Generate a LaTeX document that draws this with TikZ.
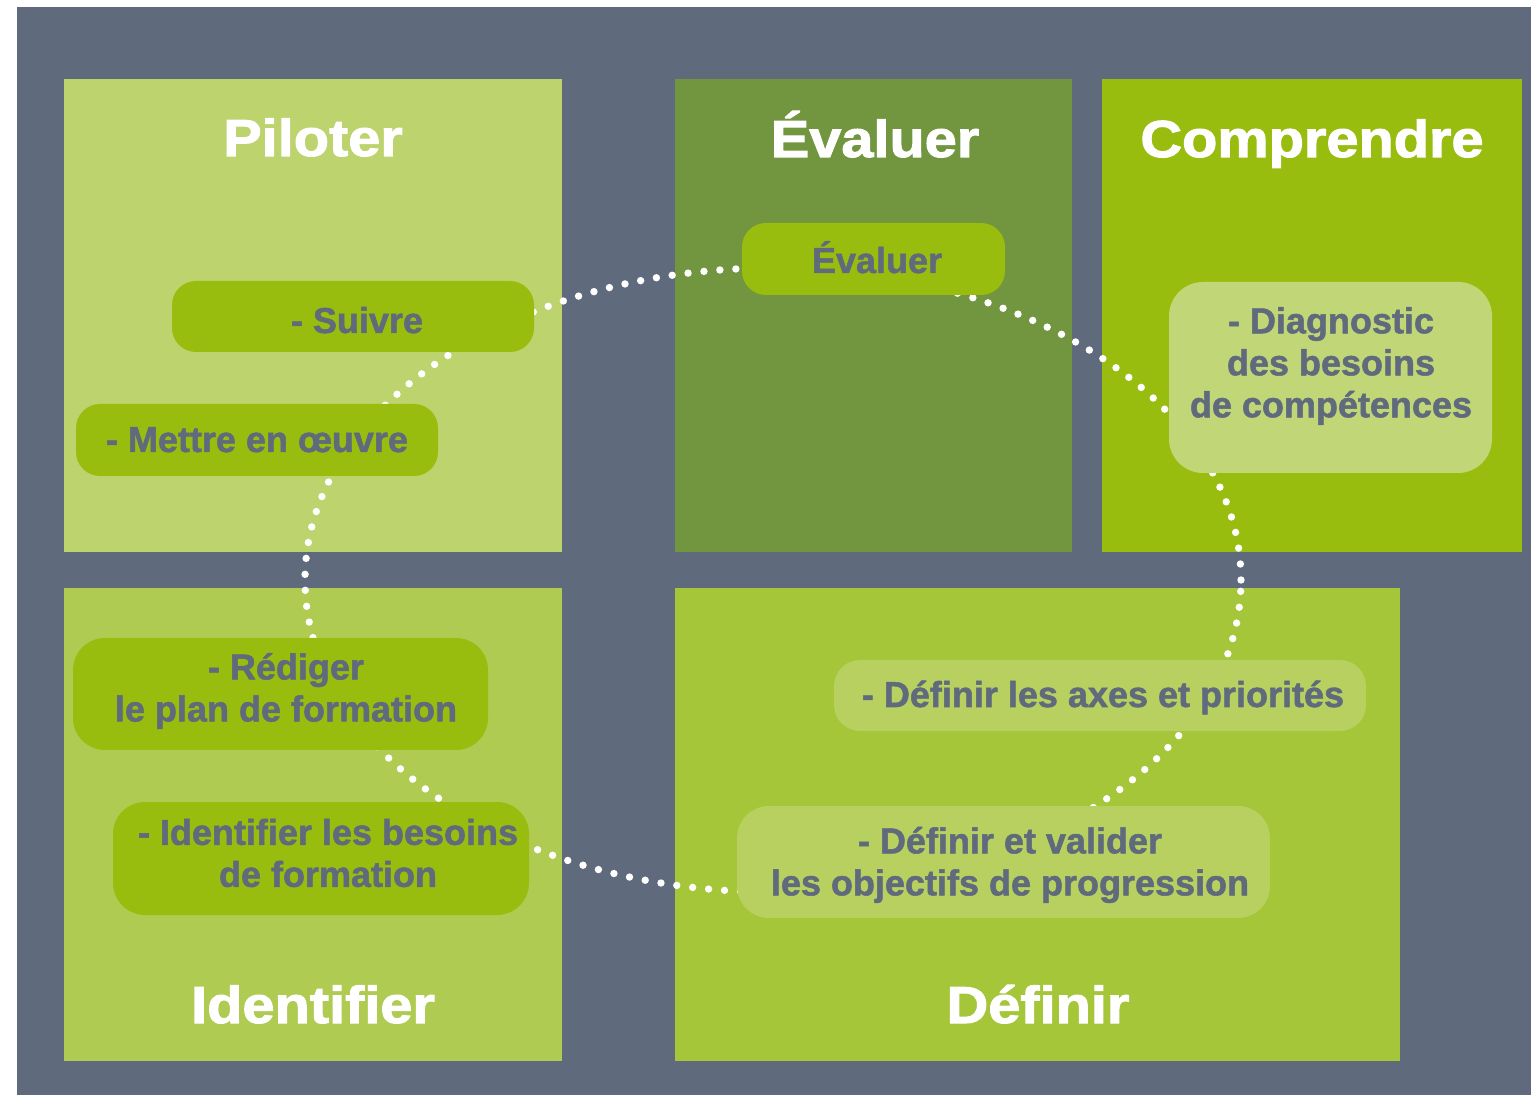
\documentclass[tikz,border=0pt]{standalone}
\usepackage{fontspec}
\setmainfont{Liberation Sans}
\newfontfamily\titlefont{Liberation Sans}[FakeStretch=1.11,BoldFeatures={FakeBold=2}]
\newfontfamily\pillfont{Liberation Sans}[BoldFeatures={FakeBold=1.4}]
\usetikzlibrary{fit}
\definecolor{bgslate}{HTML}{5F6A7D}
\definecolor{pilotfill}{HTML}{BDD36D}
\definecolor{evalfill}{HTML}{72963F}
\definecolor{compfill}{HTML}{98BD0F}
\definecolor{identfill}{HTML}{AFCB52}
\definecolor{deffill}{HTML}{A4C638}
\definecolor{pilldark}{HTML}{98BD0F}
\definecolor{diagfill}{HTML}{C1D676}
\definecolor{defpill}{HTML}{B8D05F}
\begin{document}
\begin{tikzpicture}[x=0.5pt,y=-0.5pt,
  bigbox/.style={fill=#1, draw=none, inner sep=0pt, outer sep=0pt},
  pillbox/.style={fill=#1, draw=none, inner sep=0pt, outer sep=0pt, rounded corners=12pt},
  titletext/.style={text=white, font=\titlefont\bfseries\fontsize{26}{30}\selectfont, anchor=base, inner sep=0pt},
  pilltext/.style={text=bgslate, font=\pillfont\bfseries\fontsize{18}{21}\selectfont, align=center, inner sep=0pt},
  dotring/.style={draw=white, line width=3.7pt, line cap=round, dash pattern=on 0pt off 8pt}]
\fill[white] (0,0) rectangle (1531,1095);
\useasboundingbox (0,0) rectangle (1531,1095);
\fill[bgslate] (17,7) rectangle (1531,1095);
% big boxes
\node[bigbox=pilotfill, fit={(64,79) (562,552)}] (piloter) {};
\node[bigbox=evalfill, fit={(675,79) (1072,552)}] (evaluer) {};
\node[bigbox=compfill, fit={(1102,79) (1522,552)}] (comprendre) {};
\node[bigbox=identfill, fit={(64,588) (562,1061)}] (identifier) {};
\node[bigbox=deffill, fit={(675,588) (1400,1061)}] (definir) {};
% titles
\node[titletext] (tpil) at (313,156) {Piloter};
\node[titletext] (teva) at (875,157) {Évaluer};
\node[titletext] (tcomp) at (1312,157) {Comprendre};
\node[titletext] (tident) at (313,1023) {Identifier};
\node[titletext] (tdef) at (1038,1023) {Définir};
% dotted cycle
\draw[dotring] (773,580) ellipse [x radius=234pt, y radius=156pt];
% pills
\node[pillbox=pilldark, fit={(172,281) (534,352)}] (psuivre) {};
\node[pillbox=pilldark, fit={(76,404) (438,476)}] (pmettre) {};
\node[pillbox=pilldark, fit={(742,223) (1005,295)}] (pevaluer) {};
\node[pillbox=diagfill, rounded corners=17pt, fit={(1169,282) (1492,473)}] (pdiag) {};
\node[pillbox=pilldark, rounded corners=16pt, fit={(73,638) (488,750)}] (prediger) {};
\node[pillbox=pilldark, rounded corners=16pt, fit={(113,802) (529,915)}] (pident) {};
\node[pillbox=defpill, rounded corners=13pt, fit={(834,660) (1366,731)}] (paxes) {};
\node[pillbox=defpill, rounded corners=16pt, fit={(737,806) (1270,918)}] (pvalider) {};
% pill texts
\node[pilltext, anchor=base] (tsuivre) at (357,333) {- Suivre};
\node[pilltext, anchor=base] (tmettre) at (257,452) {- Mettre en œuvre};
\node[pilltext, anchor=base] (tevalp) at (877,273) {Évaluer};
\node[pilltext] (tdiag) at (1331,366) {- Diagnostic\\des besoins\\de compétences};
\node[pilltext] (tred) at (286,691) {- Rédiger\\le plan de formation};
\node[pilltext] (tidb) at (328,853) {- Identifier les besoins\\de formation};
\node[pilltext, anchor=base] (taxes) at (1103,707) {- Définir les axes et priorités};
\node[pilltext] (tval) at (1010,865) {- Définir et valider\\les objectifs de progression};
\end{tikzpicture}
\end{document}
